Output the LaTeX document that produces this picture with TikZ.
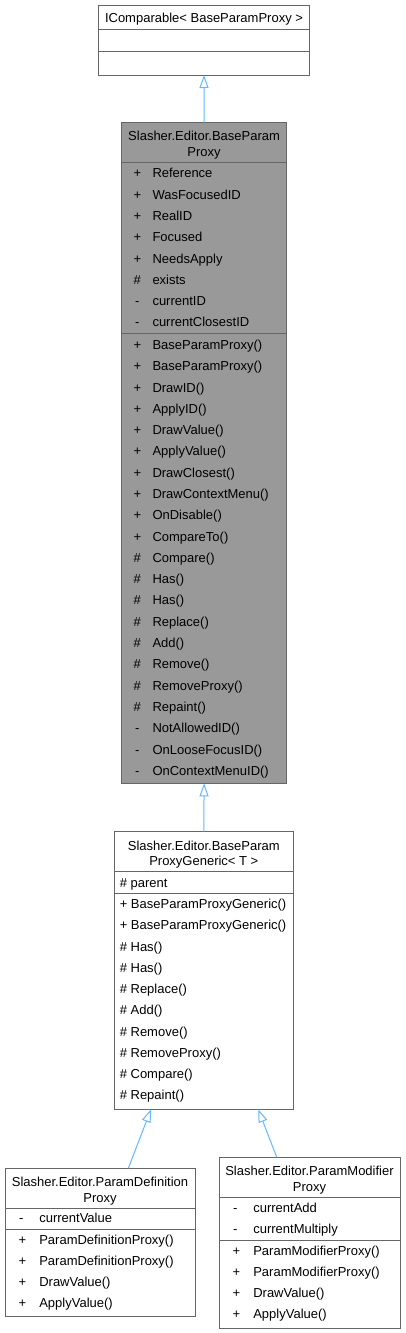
\documentclass[tikz,border=0pt]{standalone}
\usepackage{fontspec}
\setmainfont{Liberation Sans}
\usetikzlibrary{arrows.meta,calc}
\definecolor{bordergray}{HTML}{666666}
\definecolor{fillgray}{HTML}{999999}
\definecolor{inhblue}{HTML}{63B8FF}
\tikzset{
  classbox/.style={draw=bordergray, line width=1pt, inner sep=0pt, outer sep=0pt, anchor=north west},
  sepline/.style={draw=bordergray, line width=1pt},
  txt/.style={font=\fontsize{13}{15}\selectfont, inner sep=0pt, outer sep=0pt, anchor=base west, text=black},
  sym/.style={font=\fontsize{13}{15}\selectfont, inner sep=0pt, outer sep=0pt, anchor=base, text=black},
  ttl/.style={font=\fontsize{13}{15}\selectfont, inner sep=0pt, outer sep=0pt, anchor=base, text=black},
  inh/.style={draw=inhblue, line width=1pt, -{Triangle[length=13pt,width=9pt,fill=white,line width=1pt]}},
}
\begin{document}
\begin{tikzpicture}[x=1pt,y=-1pt]
\useasboundingbox (0,0) rectangle (405,1333);
\fill[white] (0,0) rectangle (405,1333);

% ---------- IComparable ----------
\node[classbox, fill=white, minimum width=211pt, minimum height=70pt] (top) at (98.5,5) {};
\draw[sepline] (98.5,29) -- (309.5,29);
\draw[sepline] (98.5,51) -- (309.5,51);
\node[ttl] (topt) at (204,22.8) {IComparable< BaseParamProxy >};

% ---------- BaseParamProxy ----------
\node[classbox, fill=fillgray, minimum width=164.8pt, minimum height=660.6pt] (mid) at (121.7,122.7) {};
\draw[sepline] (121.7,162.7) -- (286.5,162.7);
\draw[sepline] (121.7,333.3) -- (286.5,333.3);
\node[ttl] (midt1) at (204.1,140.2) {Slasher.Editor.BaseParam};
\node[ttl] (midt2) at (204.1,156.2) {Proxy};
\foreach \s/\n [count=\i from 0] in {+/Reference,+/WasFocusedID,+/RealID,+/Focused,+/NeedsApply,\#/exists,-/currentID,-/currentClosestID}{
  \node[sym] (mas\i) at (137.3,177.8+21.3*\i) {\s};
  \node[txt] (man\i) at (152.5,177.8+21.3*\i) {\n};
}
\foreach \s/\n [count=\i from 0] in {+/BaseParamProxy(),+/BaseParamProxy(),+/DrawID(),+/ApplyID(),+/DrawValue(),+/ApplyValue(),+/DrawClosest(),+/DrawContextMenu(),+/OnDisable(),+/CompareTo(),\#/Compare(),\#/Has(),\#/Has(),\#/Replace(),\#/Add(),\#/Remove(),\#/RemoveProxy(),\#/Repaint(),-/NotAllowedID(),-/OnLooseFocusID(),-/OnContextMenuID()}{
  \node[sym] (mms\i) at (137.3,349.5+21.29*\i) {\s};
  \node[txt] (mmn\i) at (152.5,349.5+21.29*\i) {\n};
}

% ---------- BaseParamProxyGeneric ----------
\node[classbox, fill=white, minimum width=179pt, minimum height=277.6pt] (gen) at (114.3,831.7) {};
\draw[sepline] (114.3,871.7) -- (293.3,871.7);
\draw[sepline] (114.3,893.3) -- (293.3,893.3);
\node[ttl] (gent1) at (203.8,850.2) {Slasher.Editor.BaseParam};
\node[ttl] (gent2) at (203.8,865.5) {ProxyGeneric< T >};
\node[txt] (gena0) at (119.8,887.2) {\# parent};
\foreach \n [count=\i from 0] in {+ BaseParamProxyGeneric(),+ BaseParamProxyGeneric(),\# Has(),\# Has(),\# Replace(),\# Add(),\# Remove(),\# RemoveProxy(),\# Compare(),\# Repaint()}{
  \node[txt] (genm\i) at (119.8,908.5+21.26*\i) {\n};
}

% ---------- ParamDefinitionProxy ----------
\node[classbox, fill=white, minimum width=190pt, minimum height=148.4pt] (lft) at (5,1168.3) {};
\draw[sepline] (5,1208.3) -- (195,1208.3);
\draw[sepline] (5,1229) -- (195,1229);
\node[ttl] (lftt1) at (100,1186.2) {Slasher.Editor.ParamDefinition};
\node[ttl] (lftt2) at (100,1202.2) {Proxy};
\node[sym] (lfas0) at (21.3,1222.8) {-};
\node[txt] (lfan0) at (39.3,1222.8) {currentValue};
\foreach \n [count=\i from 0] in {ParamDefinitionProxy(),ParamDefinitionProxy(),DrawValue(),ApplyValue()}{
  \node[sym] (lfms\i) at (22.3,1244.5+21.1*\i) {+};
  \node[txt] (lfmn\i) at (39.3,1244.5+21.1*\i) {\n};
}

% ---------- ParamModifierProxy ----------
\node[classbox, fill=white, minimum width=181pt, minimum height=171pt] (rgt) at (219,1157.3) {};
\draw[sepline] (219,1197.7) -- (400,1197.7);
\draw[sepline] (219,1240) -- (400,1240);
\node[ttl] (rgtt1) at (309.5,1175.2) {Slasher.Editor.ParamModifier};
\node[ttl] (rgtt2) at (309.5,1191.2) {Proxy};
\foreach \n [count=\i from 0] in {currentAdd,currentMultiply}{
  \node[sym] (rgas\i) at (235.3,1212.2+21.6*\i) {-};
  \node[txt] (rgan\i) at (253.3,1212.2+21.6*\i) {\n};
}
\foreach \n [count=\i from 0] in {ParamModifierProxy(),ParamModifierProxy(),DrawValue(),ApplyValue()}{
  \node[sym] (rgms\i) at (236.3,1255.5+21.1*\i) {+};
  \node[txt] (rgmn\i) at (253.3,1255.5+21.1*\i) {\n};
}

% ---------- inheritance arrows ----------
\draw[inh] (mid.north) -- (top.south);
\draw[inh] (gen.north) -- (mid.south);
\draw[inh] ($(lft.north west)!0.649!(lft.north east)$) -- ($(gen.south west)!0.205!(gen.south east)$);
\draw[inh] ($(rgt.north west)!0.319!(rgt.north east)$) -- ($(gen.south west)!0.804!(gen.south east)$);
\end{tikzpicture}
\end{document}
